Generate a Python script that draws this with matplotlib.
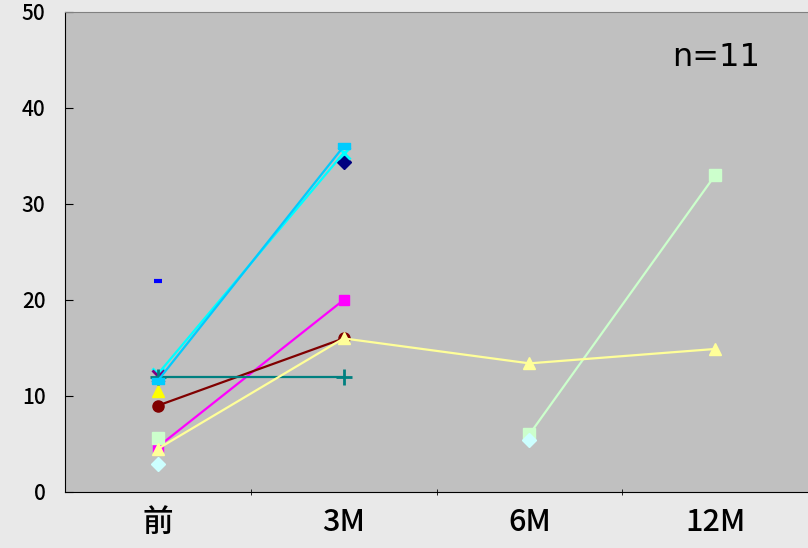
import numpy as np
import matplotlib
matplotlib.use('Agg')
import matplotlib.pyplot as plt

plt.rcParams['font.family'] = ['Noto Sans CJK JP', 'DejaVu Sans']

# categories on the x axis
periods = ['前', '3M', '6M', '12M']
nan = np.nan

s_navy      = [nan, 34.4, nan, nan]
s_magenta   = [4.7, 20.0, nan, nan]
s_yellow    = [10.5, nan, nan, nan]
s_cyan      = [12.3, 35.3, nan, nan]
s_purple    = [12.1, nan, nan, nan]
s_maroon    = [9.0, 16.0, nan, nan]
s_teal      = [12.0, 12.0, nan, nan]
s_blue      = [22.0, nan, nan, nan]
s_skyblue   = [11.6, 36.0, nan, nan]
s_lgreen    = [5.6, nan, 6.0, 33.0]
s_lyellow   = [4.5, 16.0, 13.4, 14.9]
s_lcyan     = [2.9, nan, 5.4, nan]

# flat bar marker (Excel's long dash)
bar = [(-1, -0.45), (1, -0.45), (1, 0.45), (-1, 0.45), (-1, -0.45)]

series = [
    (s_navy,    '#000080', 'D', 7),
    (s_magenta, '#FF00FF', 's', 7),
    (s_yellow,  '#FFFF00', '^', 9),
    (s_cyan,    '#00FFFF', 'x', 8),
    (s_purple,  '#800080', 'x', 8),
    (s_maroon,  '#800000', 'o', 8),
    (s_teal,    '#008080', '+', 11),
    (s_blue,    '#0000FF', '_', 6),
    (s_skyblue, '#00CCFF', bar, 9),
    (s_lgreen,  '#CCFFCC', 's', 8),
    (s_lyellow, '#FFFF99', '^', 9),
    (s_lcyan,   '#CCFFFF', 'D', 7),
]

fig = plt.figure(figsize=(8.08, 5.48), dpi=100, facecolor='#e9e9e9')
ax = fig.add_axes([65/808, 56/548, 743/808, 480/548])
ax.set_facecolor('#C0C0C0')

x = np.arange(len(periods)) + 0.5

for vals, col, mk, ms in series:
    v = np.array(vals, dtype=float)
    # nan leaves a gap in the line, as in the original
    ax.plot(x, v, color=col, lw=1.6)
    if isinstance(mk, str):
        mew = 3 if mk == '_' else (2 if mk in ('x', '+') else 1)
    else:
        mew = 1
    ax.plot(x, v, linestyle='none', marker=mk, markersize=ms,
            color=col, markeredgecolor=col, markeredgewidth=mew)

ax.set_xlim(0, 4)
ax.set_ylim(0, 50)
ax.set_yticks([0, 10, 20, 30, 40, 50])
ax.set_xticks(x)
ax.set_xticklabels(periods, fontsize=22, fontweight='medium')
ax.set_xticks([1, 2, 3], minor=True)
ax.tick_params(axis='x', which='major', length=0, pad=11)
ax.tick_params(axis='x', which='minor', length=5, direction='inout')
ax.tick_params(axis='y', labelsize=15, direction='in', length=6, pad=14)
for lab in ax.get_yticklabels():
    lab.set_fontweight('medium')

for s in ['left', 'bottom']:
    ax.spines[s].set_color('black')
ax.spines['top'].set_color('#808080')
ax.spines['right'].set_visible(False)

ax.text(3.74, 45.3, 'n=11', fontsize=23, ha='right', va='center',
        family=['DejaVu Sans'])

fig.savefig('out.png', dpi=100, facecolor=fig.get_facecolor())
